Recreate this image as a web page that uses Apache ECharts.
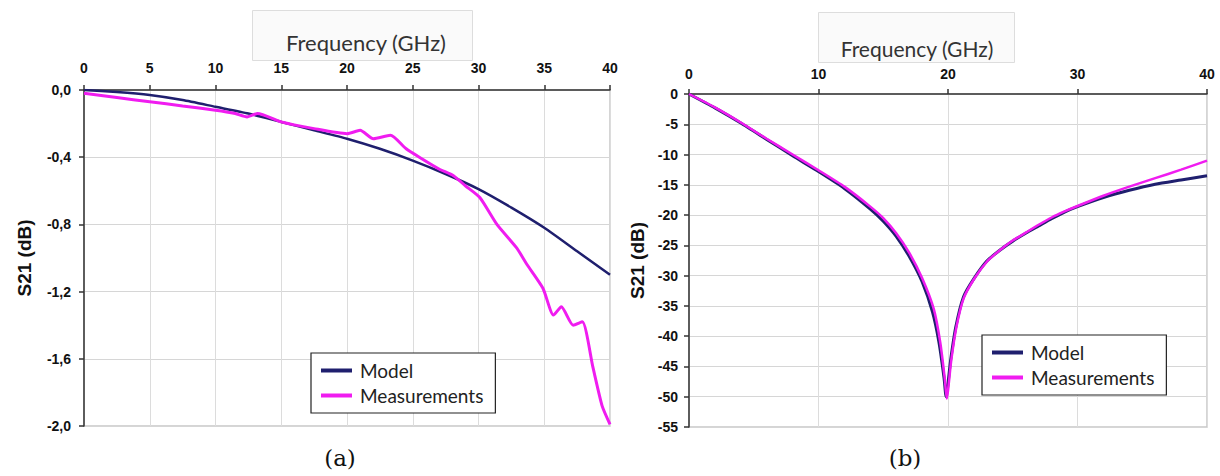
<!DOCTYPE html>
<html>
<head>
<meta charset="utf-8">
<script src="https://cdn.jsdelivr.net/npm/echarts@6/dist/echarts.min.js"></script>
<style>
  html, body { margin: 0; padding: 0; background: #fff; }
  #chart { width: 1220px; height: 476px; }
</style>
</head>
<body>
<div id="chart"></div>
<script>
// (a) S21 attenuation, 0-40 GHz
const modelA = [
  [0, 0], [2.5, -0.012], [5, -0.03], [7.5, -0.06], [10, -0.1], [12.5, -0.14],
  [15, -0.19], [17.5, -0.24], [20, -0.29], [22.5, -0.35], [25, -0.42], [27.5, -0.5],
  [30, -0.59], [32.5, -0.7], [35, -0.82], [37.5, -0.96], [40, -1.1]
]
const measA = [
  [0, -0.02], [2.5, -0.045], [5, -0.07], [7.5, -0.095], [10, -0.12], [11.5, -0.14],
  [12.4, -0.16], [13.2, -0.14], [15, -0.19], [17.5, -0.23], [20, -0.26], [21, -0.24],
  [22, -0.29], [23.3, -0.27], [24.5, -0.35], [25.5, -0.4], [27, -0.47], [28.1, -0.51],
  [29, -0.57], [30.1, -0.64], [31.4, -0.8], [32.9, -0.94], [33.7, -1.04], [34.9, -1.18],
  [35.7, -1.34], [36.3, -1.29], [37.2, -1.4], [37.9, -1.38], [38.7, -1.65], [39.4, -1.88],
  [40, -1.99]
]
// (b) S21 notch, 0-40 GHz
const modelB = [
  [0, 0], [2, -2.3], [4, -4.8], [6, -7.5], [8, -10.2], [10, -12.8], [12, -15.6],
  [14, -19], [15, -21], [16, -23.5], [17, -26.8], [18, -31], [18.8, -36], [19.3, -41],
  [19.7, -47], [19.85, -50], [20.2, -44], [20.6, -38.5], [21.2, -33.5], [22, -30.5],
  [23, -27.6], [24, -25.8], [25, -24.3], [26, -23], [27, -21.8], [28, -20.6],
  [29, -19.5], [30, -18.6], [32, -17.1], [34, -15.9], [36, -14.9], [38, -14.2], [40, -13.5]
]
const measB = [
  [0, 0], [2, -2.2], [4, -4.7], [6, -7.4], [8, -10], [10, -12.6], [12, -15.3],
  [14, -18.6], [15, -20.5], [16, -23], [17, -26.2], [18, -30.4], [18.9, -35.5], [19.4, -41],
  [19.75, -47], [19.9, -50.3], [20.25, -44], [20.65, -38.5], [21.2, -33.8], [22, -30.6],
  [23, -27.7], [24, -25.8], [25, -24.2], [26, -22.9], [27, -21.6], [28, -20.4],
  [29, -19.4], [30, -18.5], [32, -16.8], [34, -15.3], [36, -13.9], [38, -12.5], [40, -11]
]
const legendNames = ['Model', 'Measurements']

const navy = '#1f1f6e'
const magenta = '#f01cf0'
const tickFont = { color: '#111', fontFamily: 'Liberation Sans', fontWeight: 'bold', fontSize: 14 }

function xAxisOf(grid, interval, margin) {
  return {
    gridIndex: grid,
    type: 'value',
    position: 'top',
    min: 0,
    max: 40,
    interval: interval,
    axisLine: { lineStyle: { color: '#333', width: 1.5 } },
    axisTick: { show: true, length: 5, lineStyle: { color: '#333', width: 1.5 } },
    axisLabel: Object.assign({ margin: margin }, tickFont),
    splitLine: { show: true, lineStyle: { color: '#dcdcdc', width: 1 } },
  }
}

function yAxisOf(grid, min, interval, margin, gap, fmt) {
  return {
    gridIndex: grid,
    type: 'value',
    min: min,
    max: 0,
    interval: interval,
    name: 'S21 (dB)',
    nameLocation: 'middle',
    nameGap: gap,
    nameTextStyle: { color: '#111', fontFamily: 'Liberation Sans', fontWeight: 'bold', fontSize: 19 },
    axisLine: { show: true, lineStyle: { color: '#333', width: 1.5 } },
    axisTick: { show: true, length: 5, lineStyle: { color: '#333', width: 1.5 } },
    axisLabel: Object.assign({ margin: margin, formatter: fmt }, tickFont),
    splitLine: { show: true, lineStyle: { color: '#d6d6d6', width: 1.2 } },
  }
}

function legendOf(left, top) {
  return {
    data: legendNames,
    orient: 'vertical',
    left: left,
    top: top,
    itemWidth: 31,
    itemHeight: 4,
    itemGap: 6,
    padding: [8, 12, 8, 10],
    backgroundColor: '#fff',
    borderColor: '#222',
    borderWidth: 1.2,
    borderRadius: 0,
    selectedMode: false,
    icon: 'rect',
    textStyle: { color: '#222', fontFamily: 'Lato', fontSize: 19, padding: [0, 0, 0, 3] },
  }
}

function line(name, data, x, y, color, width) {
  return {
    name: name,
    type: 'line',
    xAxisIndex: x,
    yAxisIndex: y,
    data: data,
    showSymbol: false,
    smooth: 0.2,
    color: color,
    lineStyle: { color: color, width: width },
    animation: false,
  }
}

const chart = echarts.init(document.getElementById('chart'), null, { renderer: 'svg' })
chart.setOption({
  backgroundColor: '#fff',
  animation: false,
  grid: [
    { left: 84, top: 90, width: 526, height: 336, show: true, borderColor: '#c8c8c8', borderWidth: 1.5 },
    { left: 689, top: 94, width: 518, height: 333, show: true, borderColor: '#c8c8c8', borderWidth: 1.5 },
  ],
  xAxis: [xAxisOf(0, 5, 15), xAxisOf(1, 10, 13)],
  yAxis: [
    yAxisOf(0, -2, 0.4, 13, 50, v => v.toFixed(1).replace('.', ',')),
    yAxisOf(1, -55, 5, 11, 42, v => String(v)),
  ],
  legend: [legendOf(311, 353), legendOf(982, 335)],
  series: [
    line('Model', modelA, 0, 0, navy, 2.5),
    line('Measurements', measA, 0, 0, magenta, 3),
    line('Model', modelB, 1, 1, navy, 3),
    line('Measurements', measB, 1, 1, magenta, 2.5),
  ],
  graphic: [
    { type: 'rect', left: 252, top: 10, shape: { width: 220, height: 50 },
      style: { fill: '#fafafa', stroke: '#dddddd', lineWidth: 1 }, silent: true },
    { type: 'text', x: 366, y: 42, silent: true,
      style: { text: 'Frequency (GHz)', align: 'center', verticalAlign: 'middle', fill: '#333', font: '22px Lato' } },
    { type: 'rect', left: 818, top: 12, shape: { width: 196, height: 50 },
      style: { fill: '#fafafa', stroke: '#dddddd', lineWidth: 1 }, silent: true },
    { type: 'text', x: 917, y: 48, silent: true,
      style: { text: 'Frequency (GHz)', align: 'center', verticalAlign: 'middle', fill: '#333', font: '21px Lato' } },
    { type: 'text', x: 340, y: 458, silent: true,
      style: { text: '(a)', align: 'center', verticalAlign: 'middle', fill: '#111', font: '23px "DejaVu Serif"' } },
    { type: 'text', x: 905, y: 458, silent: true,
      style: { text: '(b)', align: 'center', verticalAlign: 'middle', fill: '#111', font: '23px "DejaVu Serif"' } },
  ],
})
</script>
</body>
</html>
